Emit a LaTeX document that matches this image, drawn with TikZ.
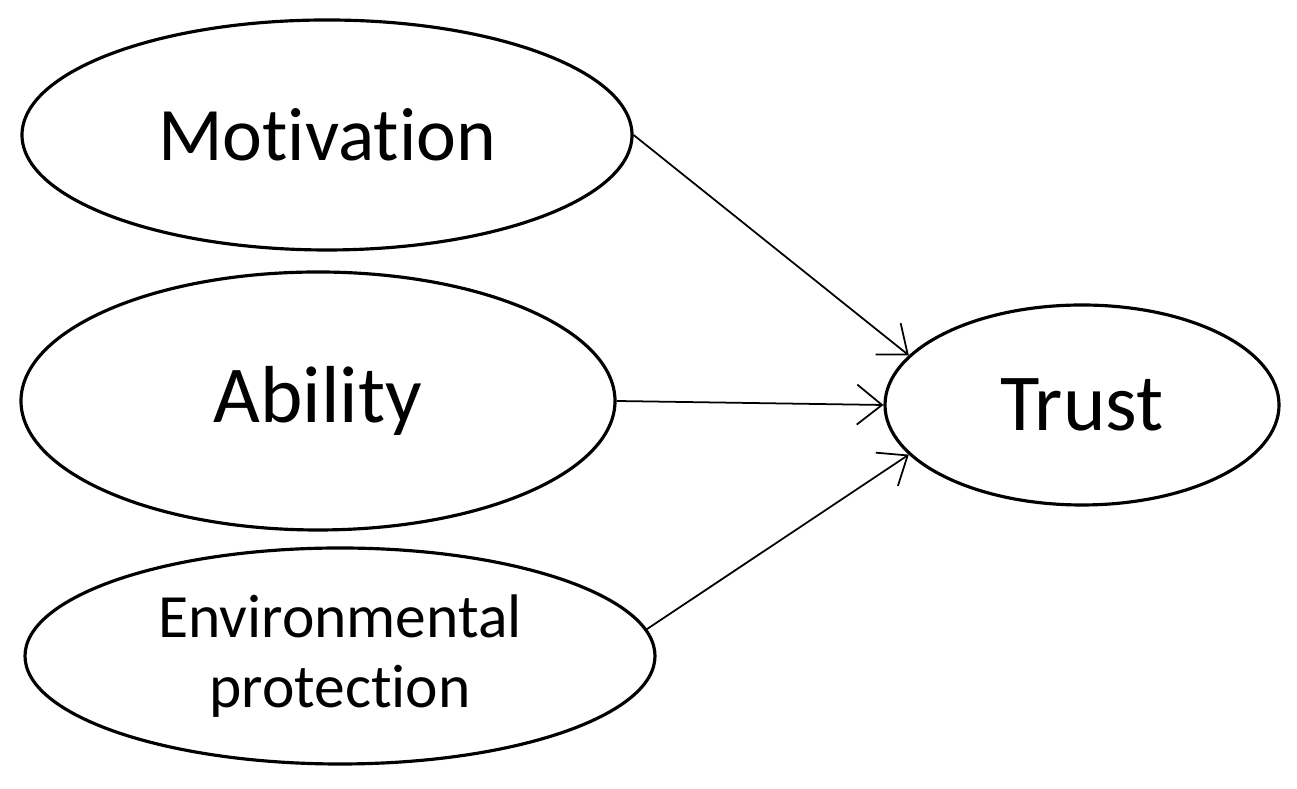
\documentclass[tikz,border=0pt]{standalone}
\usepackage{fontspec}
\setmainfont{Carlito}[Ligatures=NoCommon]
\usetikzlibrary{shapes.geometric,arrows.meta}
\begin{document}
\begin{tikzpicture}[
  oval/.style={draw,ellipse,line width=0.9pt,inner sep=0pt,align=center},
  link/.style={line width=0.5pt,-{Straight Barb[length=2.5mm,width=4mm]}}]
\useasboundingbox (0,0) rectangle (12.97,7.89);
\node[oval,minimum width=6.1cm,minimum height=2.3cm,font=\fontsize{21.5}{26}\selectfont] (mot) at (3.27,6.54) {Motivation};
\node[oval,minimum width=5.94cm,minimum height=2.58cm,font=\fontsize{23}{27}\selectfont] (abi) at (3.18,3.88) {Ability};
\node[oval,minimum width=6.3cm,minimum height=2.16cm,font=\fontsize{17.5}{20}\selectfont] (env) at (3.40,1.33) {Environmental\\protection};
\node[oval,minimum width=3.94cm,minimum height=2.0cm,font=\fontsize{23}{27}\selectfont] (tru) at (10.82,3.84) {Trust};
\draw[link] (mot.east) -- (tru.164);
\draw[link] (abi.east) -- (tru.180);
\draw[link] (env.5) -- (tru.196);
\end{tikzpicture}
\end{document}
